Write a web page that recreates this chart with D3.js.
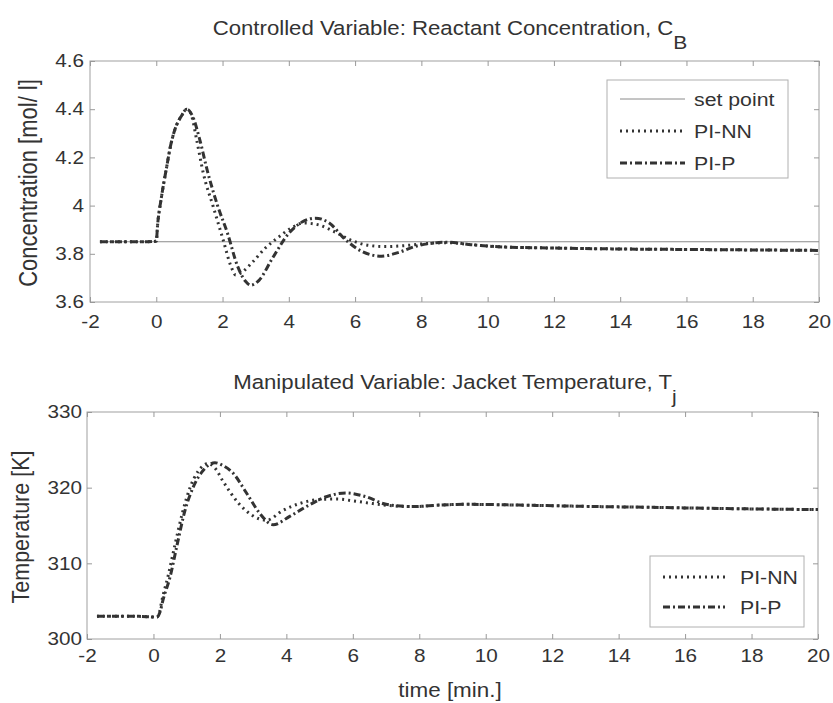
<!DOCTYPE html>
<html>
<head>
<meta charset="utf-8">
<title>Controlled and manipulated variable</title>
<script src="https://cdn.jsdelivr.net/npm/d3@7"></script>
<style>
  body { margin:0; background:#fff; }
  svg { display:block; font-family:"Liberation Sans", Arial, sans-serif; }
  .ax path.domain { display:none; }
  .ax line { stroke:#999; stroke-width:1; }
  .ax text { fill:#333; font-size:18px; font-family:"Liberation Sans", Arial, sans-serif; }
</style>
</head>
<body>
<div id="chart"></div>
<script>
  // ---- data ----
  var xTicks = [-2, 0, 2, 4, 6, 8, 10, 12, 14, 16, 18, 20];
  var concTicks = [3.6, 3.8, 4, 4.2, 4.4, 4.6];
  var tempTicks = [300, 310, 320, 330];

  var setPointTime = [-1.7, 20];
  var setPointConc = [3.85, 3.85];

  var concNNTime = [-1.7, -0.5, 0, 0.04, 0.15, 0.3, 0.45, 0.6, 0.75, 0.92, 1.05, 1.22, 1.42, 1.72, 2.02, 2.25, 2.4, 2.6, 2.9, 3.3, 3.7, 4.05, 4.45, 4.9, 5.4, 5.9, 6.4, 6.9, 7.5, 8.1, 8.8, 9.5, 10.5, 12, 14, 16, 18, 20];
  var concNN = [3.85, 3.85, 3.852, 3.92, 4.03, 4.15, 4.26, 4.33, 4.37, 4.40, 4.38, 4.272, 4.134, 3.995, 3.857, 3.75, 3.712, 3.725, 3.765, 3.825, 3.87, 3.905, 3.928, 3.92, 3.89, 3.855, 3.835, 3.83, 3.834, 3.842, 3.846, 3.838, 3.828, 3.824, 3.82, 3.818, 3.816, 3.814];

  var concPTime = [-1.7, -0.5, 0, 0.04, 0.15, 0.3, 0.45, 0.6, 0.75, 0.92, 1.1, 1.3, 1.55, 1.85, 2.15, 2.45, 2.7, 2.85, 3.1, 3.5, 4.0, 4.4, 4.8, 5.2, 5.7, 6.2, 6.8, 7.3, 7.8, 8.4, 8.8, 9.5, 10.5, 12, 14, 16, 18, 20];
  var concP = [3.85, 3.85, 3.852, 3.92, 4.03, 4.15, 4.26, 4.33, 4.37, 4.40, 4.37, 4.28, 4.14, 4.0, 3.885, 3.75, 3.685, 3.67, 3.69, 3.78, 3.885, 3.932, 3.948, 3.93, 3.86, 3.81, 3.79, 3.805, 3.83, 3.845, 3.848, 3.838, 3.828, 3.824, 3.82, 3.818, 3.816, 3.814];

  var tempNNTime = [-1.7, -0.5, 0.1, 0.18, 0.25, 0.45, 0.65, 0.88, 1.1, 1.35, 1.65, 1.85, 2.1, 2.55, 2.95, 3.4, 3.9, 4.4, 4.9, 5.5, 6.1, 6.6, 7.2, 7.8, 8.6, 9.4, 11, 13.4, 15, 17, 20];
  var tempNN = [303, 303, 302.9, 303.5, 305, 308.5, 312.5, 316.8, 320, 322.2, 323.2, 322.6, 320.8, 318, 316.4, 315.7, 317, 317.9, 318.4, 318.5, 318.2, 317.9, 317.6, 317.5, 317.7, 317.8, 317.7, 317.5, 317.4, 317.25, 317.1];

  var tempPTime = [-1.7, -0.5, 0.1, 0.2, 0.29, 0.5, 0.7, 0.95, 1.2, 1.5, 1.85, 2.1, 2.4, 2.8, 3.2, 3.6, 4.1, 4.6, 5.2, 5.8, 6.4, 7.0, 7.8, 8.6, 9.4, 11, 13.4, 15, 17, 20];
  var tempP = [303, 303, 302.9, 303.6, 305.2, 308.2, 312.2, 317, 320.1, 322.3, 323.3, 322.9, 321.9, 319.3, 316.6, 315.1, 316.2, 317.5, 318.8, 319.3, 318.8, 317.8, 317.5, 317.7, 317.8, 317.7, 317.5, 317.4, 317.25, 317.1];

  // ---- drawing ----
  var S = 1.15; // the scanned text is a bit wider than tall
  var ink = "#333";
  var styles = {
    sp: {stroke: "#8a8a8a", width: 1, dash: null},
    nn: {stroke: ink, width: 3, dash: "2,4"},
    p:  {stroke: ink, width: 3, dash: "7,3,2,3"}
  };

  var svg = d3.select("#chart").append("svg")
      .attr("width", 833)
      .attr("height", 703);
  svg.append("rect").attr("width", 833).attr("height", 703).attr("fill", "#fff");

  function zip(t, v) { return t.map(function(d, i) { return [d, v[i]]; }); }

  function drawPanel(x, y, yTicks, yFmt, xPad, yPad, series) {
    var x0 = x.range()[0], x1 = x.range()[1], y0 = y.range()[0], y1 = y.range()[1];
    var g = svg.append("g");

    g.append("rect")
      .attr("x", x0).attr("y", y1)
      .attr("width", x1 - x0).attr("height", y0 - y1)
      .attr("fill", "none").attr("stroke", "#a0a0a0").attr("stroke-width", 1);

    g.append("g").attr("class", "ax").attr("transform", "translate(0," + y0 + ")")
      .call(d3.axisBottom(x).tickValues(xTicks).tickFormat(function(d) { return String(d); })
        .tickSizeInner(-5).tickSizeOuter(0).tickPadding(xPad));
    g.append("g").attr("class", "ax").attr("transform", "translate(0," + y1 + ")")
      .call(d3.axisTop(x).tickValues(xTicks).tickFormat("").tickSizeInner(-5).tickSizeOuter(0));
    g.append("g").attr("class", "ax").attr("transform", "translate(" + x0 + ",0)")
      .call(d3.axisLeft(y).tickValues(yTicks).tickFormat(yFmt)
        .tickSizeInner(-5).tickSizeOuter(0).tickPadding(yPad));
    g.append("g").attr("class", "ax").attr("transform", "translate(" + x1 + ",0)")
      .call(d3.axisRight(y).tickValues(yTicks).tickFormat("").tickSizeInner(-5).tickSizeOuter(0));
    g.selectAll(".ax text").attr("transform", "scale(" + S + ",1)");

    var line = d3.line()
      .x(function(d) { return x(d[0]); })
      .y(function(d) { return y(d[1]); })
      .curve(d3.curveMonotoneX);

    series.forEach(function(s) {
      g.append("path")
        .datum(s.data)
        .attr("d", line)
        .attr("fill", "none")
        .attr("stroke", s.style.stroke)
        .attr("stroke-width", s.style.width)
        .attr("stroke-dasharray", s.style.dash);
    });
  }

  function drawLegend(bx, by, bw, bh, items) {
    var g = svg.append("g");
    g.append("rect").attr("x", bx).attr("y", by).attr("width", bw).attr("height", bh)
      .attr("fill", "#fff").attr("stroke", "#b0b0b0").attr("stroke-width", 1);
    items.forEach(function(it) {
      g.append("line")
        .attr("x1", it.lx0).attr("x2", it.lx1).attr("y1", it.y).attr("y2", it.y)
        .attr("stroke", it.style.stroke).attr("stroke-width", it.style.width)
        .attr("stroke-dasharray", it.style.dash);
      g.append("text")
        .attr("transform", "translate(" + it.tx + "," + (it.y + 6.5) + ") scale(" + S + ",1)")
        .attr("font-size", 18.5).attr("fill", ink)
        .text(it.label);
    });
  }

  function title(x, y, size, str, sub, subDy) {
    var t = svg.append("text")
      .attr("transform", "translate(" + x + "," + y + ") scale(" + S + ",1)")
      .attr("text-anchor", "middle").attr("font-size", size).attr("fill", ink);
    t.append("tspan").text(str);
    if (sub) t.append("tspan").attr("dy", subDy).attr("font-size", size - 1).text(sub);
  }

  function yLabel(x, y, size, str) {
    svg.append("text")
      .attr("transform", "translate(" + x + "," + y + ") rotate(-90) scale(1," + S + ")")
      .attr("text-anchor", "middle").attr("font-size", size).attr("fill", ink)
      .text(str);
  }

  // top panel: concentration
  var xTop = d3.scaleLinear().domain([-2, 20]).range([90, 819]);
  var yTop = d3.scaleLinear().domain([3.6, 4.6]).range([302, 61]);
  drawPanel(xTop, yTop, concTicks, function(d) { return String(+d.toFixed(1)); }, 13, 5.2, [
    {data: zip(setPointTime, setPointConc), style: styles.sp},
    {data: zip(concNNTime, concNN), style: styles.nn},
    {data: zip(concPTime, concP), style: styles.p}
  ]);

  // bottom panel: jacket temperature
  var xBot = d3.scaleLinear().domain([-2, 20]).range([87, 818]);
  var yBot = d3.scaleLinear().domain([300, 330]).range([639, 412]);
  drawPanel(xBot, yBot, tempTicks, function(d) { return String(d); }, 10, 4.3, [
    {data: zip(tempNNTime, tempNN), style: styles.nn},
    {data: zip(tempPTime, tempP), style: styles.p}
  ]);

  drawLegend(607, 80, 181, 98, [
    {label: "set point", style: styles.sp, lx0: 620, lx1: 685, tx: 694, y: 99},
    {label: "PI-NN", style: styles.nn, lx0: 620, lx1: 685, tx: 694, y: 131},
    {label: "PI-P", style: styles.p, lx0: 620, lx1: 685, tx: 694, y: 163}
  ]);
  drawLegend(650, 556, 154, 71, [
    {label: "PI-NN", style: styles.nn, lx0: 663, lx1: 725, tx: 740, y: 577},
    {label: "PI-P", style: styles.p, lx0: 663, lx1: 725, tx: 740, y: 607}
  ]);

  title(450, 35, 19.3, "Controlled Variable: Reactant Concentration, C", "B", 14);
  title(455, 389, 19.3, "Manipulated Variable: Jacket Temperature, T", "j", 14);
  title(450, 697, 19.5, "time [min.]");
  yLabel(37, 183, 22, "Concentration [mol/ l]");
  yLabel(29, 527, 21.5, "Temperature [K]");
</script>
</body>
</html>
